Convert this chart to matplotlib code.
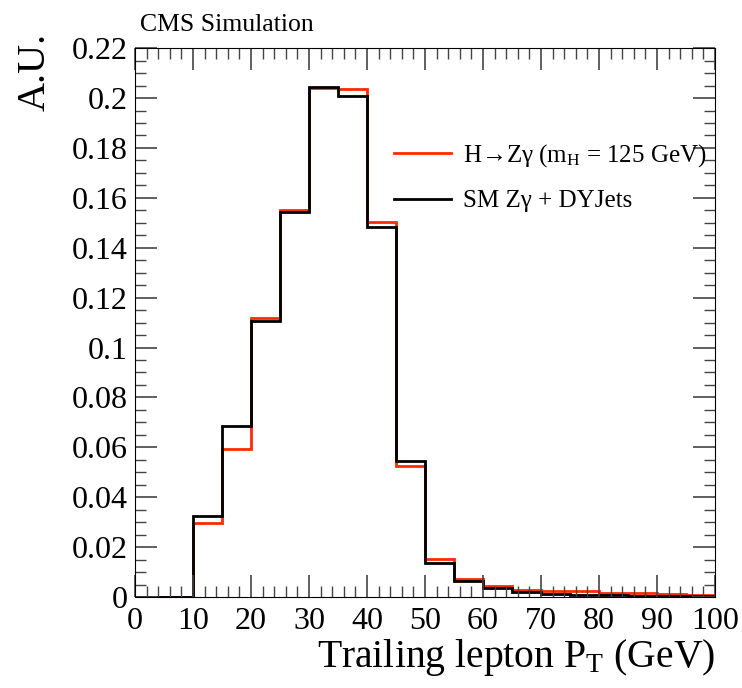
import matplotlib
matplotlib.use("Agg")
import matplotlib.pyplot as plt
from matplotlib.ticker import MultipleLocator, FormatStrFormatter
import numpy as np

plt.rcParams['font.family'] = ['Liberation Serif', 'DejaVu Serif']
plt.rcParams['mathtext.fontset'] = 'custom'
plt.rcParams['mathtext.rm'] = 'Liberation Serif'
plt.rcParams['mathtext.it'] = 'Liberation Serif:italic'

# bin edges (GeV) and normalised contents
edges = np.arange(0, 105, 5)
higgs = [0, 0, 0.0295, 0.0592, 0.1117, 0.1550, 0.2040, 0.2035, 0.1502, 0.0525,
         0.0151, 0.0072, 0.0045, 0.0028, 0.0024, 0.0022, 0.0017, 0.0015, 0.0012, 0.0006]
bkg = [0, 0, 0.0326, 0.0687, 0.1105, 0.1542, 0.2045, 0.2010, 0.1485, 0.0545,
       0.0135, 0.0063, 0.0035, 0.0021, 0.0012, 0.0009, 0.0007, 0.0005, 0.0004, 0.0003]

higgs_label = "H\u2192Z\u03b3 (m$_\\mathregular{H}$ = 125 GeV)"
bkg_label = "SM Z\u03b3 + DYJets"

fig = plt.figure(figsize=(7.42, 6.88), dpi=100)
ax = fig.add_axes([0.182, 0.1323, 0.7816, 0.7977])

ax.stairs(higgs, edges, color='#ff2a00', lw=2, label=higgs_label)
ax.stairs(bkg, edges, color='black', lw=2, label=bkg_label)

ax.set_xlim(0, 100)
ax.set_ylim(0, 0.22)
ax.xaxis.set_major_locator(MultipleLocator(10))
ax.xaxis.set_minor_locator(MultipleLocator(2))
ax.yaxis.set_major_locator(MultipleLocator(0.02))
ax.yaxis.set_minor_locator(MultipleLocator(0.005))
ax.yaxis.set_major_formatter(FormatStrFormatter('%g'))
ax.tick_params(which='both', direction='in', top=True, right=True, color='#444444')
ax.tick_params(which='major', length=16, width=1.2, labelsize=23)
ax.tick_params(which='minor', length=8, width=1)
ax.tick_params(axis='x', pad=7)
ax.tick_params(axis='y', pad=5)

ax.legend(loc='upper left', bbox_to_anchor=(0.408, 0.8695), frameon=False, fontsize=18,
          handlelength=2.28, handletextpad=0.48, labelspacing=0.83)

fig.text(140 / 742, 1 - 31 / 688, "CMS Simulation", fontsize=18.5,
         ha='left', va='baseline')
fig.text(35 / 742, 1 - 33 / 688, "A.U.", rotation=90, ha='center', va='top', fontsize=29)
fig.text(715 / 742, 1 - 667 / 688, "Trailing lepton P$_\\mathregular{T}$ (GeV)",
         ha='right', va='baseline', fontsize=28.5)

fig.savefig("out.png", dpi=100)
